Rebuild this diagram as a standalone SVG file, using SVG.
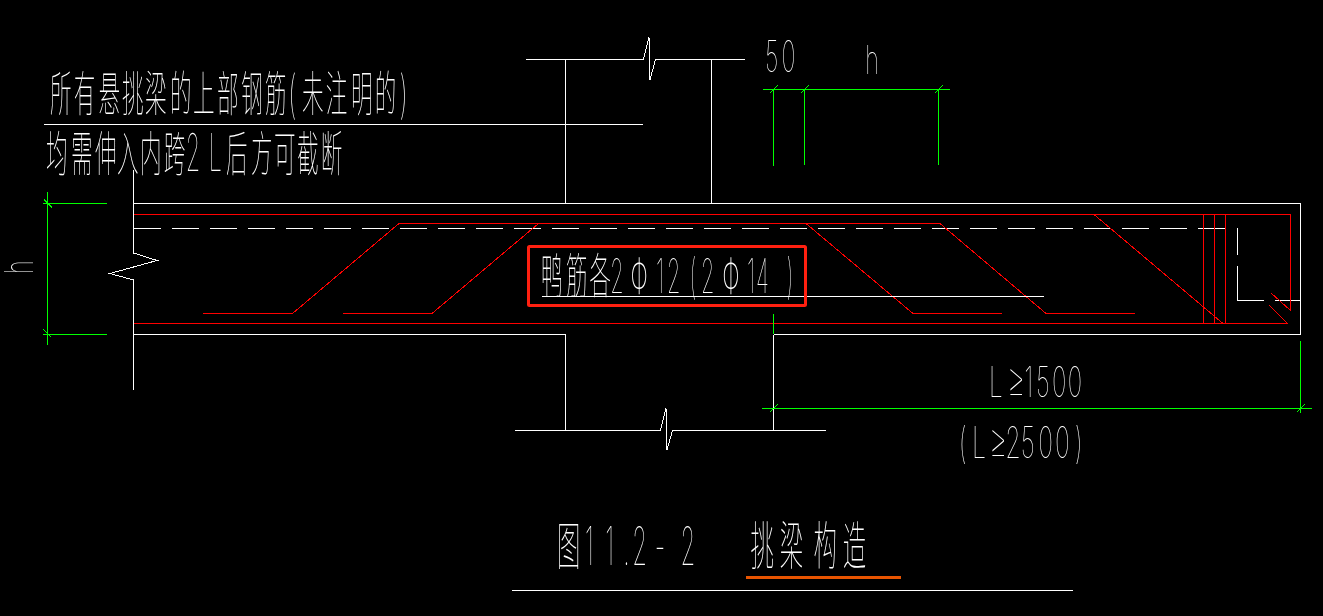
<svg xmlns="http://www.w3.org/2000/svg" width="1323" height="616" viewBox="0 0 1323 616">
<style>
.w{stroke:#fff;stroke-width:1;fill:none;shape-rendering:crispEdges}
.r{stroke:#f00;stroke-width:1;fill:none;shape-rendering:crispEdges}
.g{stroke:#0f0;stroke-width:1;fill:none;shape-rendering:crispEdges}
.d{stroke-dasharray:27 11}
text{fill:#fff;font-family:"Noto Sans CJK SC",sans-serif;font-weight:100;font-size:48px}
.n{font-family:Inter,Roboto,"Liberation Sans",sans-serif;font-weight:100}
.p{font-family:"Noto Sans CJK JP",sans-serif;font-weight:100}
</style>
<defs>
<path id="t1" class="g" d="M-4 4L4-4"/>
<path id="t2" class="g" d="M-4-4L4 4"/>
</defs>
<rect width="1323" height="616" fill="#000"/>
<g id="concrete">
<path class="w" d="M133.5 170V253L157 260.5L110 273.5L133.5 280V390"/>
<path class="w" d="M133.5 203.5H1300.5V334.5H773.5M133.5 334.5H565.5"/>
<path class="w" d="M526 59.5H643.5L649 37L650 80L655.5 59.5H745M565.5 59.5V203.5M711.5 59.5V203.5"/>
<path class="w" d="M515 430.5H660.5L666 408L667 450L672.5 430.5H826M565.5 334.5V430.5M773.5 334.5V430.5"/>
<path class="w d" d="M134 228.5H1226"/>
<path class="w" d="M1237.5 228V255M1237.5 266V300.5H1264M1275 300.5H1300.5"/>
</g>
<g id="rebar">
<path class="r" d="M133.5 214.5H1290.5V310.5L1271 293M1287.5 323.5H133.5M1287.5 323.5L1269 305"/>
<path class="r" d="M1203.5 214.5V323.5M1214.5 214.5V323.5M1225.5 214.5V323.5M1094 214.5L1223 323.5"/>
<path class="r" d="M203 313.5H292.5L399 223.5H940L1046 313.5H1135M343 313.5H432L538.5 223.5M806 223.5L913 313.5H1002"/>
</g>
<g id="leaders">
<path class="w" d="M44 124.5H643M542 296.5H1044M512 590.5H1073"/>
</g>
<g id="dimensions">
<path class="g" d="M763 89.5H950M773.5 89.5V166M804.5 89.5V165M938.5 89.5V165"/>
<path class="g" d="M47.5 192V345M43 203.5H107M43 334.5H107"/>
<path class="g" d="M762 408.5H1312M1300.5 341V413M773.5 314V334"/>
<use href="#t1" x="773.5" y="89.5"/><use href="#t1" x="804.5" y="89.5"/><use href="#t1" x="938.5" y="89.5"/>
<use href="#t2" x="48" y="203.5"/><use href="#t2" x="47.5" y="333.5"/>
<use href="#t1" x="773.5" y="408.5"/><use href="#t1" x="1300.5" y="408.5"/>
</g>
<g id="highlights">
<rect x="528.5" y="246.5" width="277" height="59" rx="1" fill="none" stroke="#ff2010" stroke-width="3"/>
<rect x="746" y="576" width="155" height="3" fill="#e85400"/>
</g>
<g id="labels" opacity=".999">
<text transform="scale(.45 1)" y="111" x="111 164 219 271 322 378 429 482 536 589 642 671 724 780 833 890">所有悬挑梁的上部钢筋(未注明的)</text>
<text transform="scale(.45 1)" y="171" x="102 158 211 260 311 364 413 440 464 502 558 609 660 713">均需伸入内跨<tspan class="n" style="font-size:52px">2 L</tspan>后方可截断</text>
<text class="n" transform="scale(.55 1)" y="72" style="font-size:43px" x="1391 1421">50</text>
<text class="n" transform="scale(.6 1)" y="74" style="font-size:39px" x="1442">h</text>
<text class="n" transform="translate(33 274) rotate(-90) scale(.6 1)" style="font-size:39px">h</text>
<text transform="scale(.45 1)" y="293" x="1202 1258 1310 1356 1390 1402 1458 1482 1532 1558 1598 1606 1660 1680 1710 1748">鸭筋各<tspan class="n">2 </tspan><tspan class="p">Φ</tspan><tspan class="n">12(2 </tspan><tspan class="p">Φ</tspan><tspan class="n">14 )</tspan></text>
<text class="n" transform="scale(.58 1)" y="397" style="font-size:42px" x="1705 1736 1766 1786 1814 1841">L<tspan style="font-size:50px">≥</tspan>1500</text>
<text class="n" transform="scale(.58 1)" y="458" style="font-size:43px" x="1653 1676 1705 1733 1760 1790 1819 1853">(L<tspan style="font-size:50px">≥</tspan>2500)</text>
<text transform="scale(.45 1)" y="565" x="1238" style="font-size:52px"><tspan>图</tspan><tspan class="n" style="font-size:53px" x="1300 1345 1385 1405 1455 1512">11.2-2</tspan><tspan x="1668 1733 1808 1873">挑梁构造</tspan></text>
</g>
</svg>
